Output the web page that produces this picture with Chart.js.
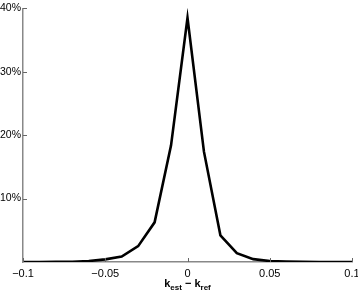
<!DOCTYPE html>
<html>
<head>
<meta charset="utf-8">
<script src="https://cdn.jsdelivr.net/npm/chart.js@4"></script>
<style>
  body { margin: 0; background: #fff; }
  canvas { display: block; }
</style>
</head>
<body>
<canvas id="errChart" width="358" height="293"></canvas>
<script>
// k_est - k_ref histogram (percent of samples)
const diffs = [-0.1, -0.09, -0.08, -0.07, -0.06, -0.05, -0.04, -0.03, -0.02, -0.01, 0,
    0.01, 0.02, 0.03, 0.04, 0.05, 0.06, 0.07, 0.08, 0.09, 0.1];
const percents = [0, 0, 0.02, 0.05, 0.15, 0.42, 0.85, 2.5, 6.25, 18.4, 38.5,
    17.4, 4.2, 1.4, 0.45, 0.15, 0.08, 0.05, 0, 0, 0];
const xTicks = [-0.1, -0.05, 0, 0.05, 0.1];
const xTickLabels = ['\u22120.1', '\u22120.05', '0', '0.05', '0.1'];
const yTicks = [10, 20, 30, 40];

const font = {family: "'Liberation Sans', Arial, sans-serif", size: 11};

// small inward tick marks, like the matlab axes
const innerTicks = {
    id: 'innerTicks',
    afterDraw(chart) {
        const {ctx, chartArea, scales} = chart;
        ctx.save();
        ctx.strokeStyle = '#666';
        ctx.lineWidth = 1;
        ctx.beginPath();
        xTicks.forEach(v => {
            const px = Math.round(scales.x.getPixelForValue(v)) + 0.5;
            ctx.moveTo(px, chartArea.bottom);
            ctx.lineTo(px, chartArea.bottom - 4);
        });
        yTicks.forEach(v => {
            const py = Math.round(scales.y.getPixelForValue(v)) + 0.5;
            ctx.moveTo(chartArea.left, py);
            ctx.lineTo(chartArea.left + 4, py);
        });
        ctx.stroke();
        ctx.restore();
    }
};

// axis title with subscripts: k_est - k_ref
const xTitle = {
    id: 'xTitle',
    afterDraw(chart) {
        const {ctx, scales} = chart;
        const big = "bold 11px 'Liberation Sans', Arial, sans-serif";
        const small = "bold 8px 'Liberation Sans', Arial, sans-serif";
        const parts = [['k', big, 0], ['est', small, 3], [' \u2212 ', big, 0], ['k', big, 0], ['ref', small, 3]];
        ctx.save();
        let total = 0;
        parts.forEach(p => { ctx.font = p[1]; total += ctx.measureText(p[0]).width; });
        let x = scales.x.getPixelForValue(0) - total / 2;
        const y = 287;
        ctx.fillStyle = '#000';
        ctx.textBaseline = 'alphabetic';
        parts.forEach(p => {
            ctx.font = p[1];
            ctx.fillText(p[0], x, y + p[2]);
            x += ctx.measureText(p[0]).width;
        });
        ctx.restore();
    }
};

new Chart(document.querySelector('#errChart'), {
    type: 'line',
    data: {
        datasets: [{
            data: diffs.map((d, i) => ({x: d, y: percents[i]})),
            borderColor: '#000',
            borderWidth: 2.6,
            pointRadius: 0,
            tension: 0,
            fill: false
        }]
    },
    options: {
        responsive: false,
        animation: false,
        devicePixelRatio: 1,
        layout: {padding: {top: 4, right: 6, left: 0, bottom: 0}},
        plugins: {legend: {display: false}, tooltip: {enabled: false}},
        scales: {
            x: {
                type: 'linear',
                min: -0.1,
                max: 0.1,
                afterBuildTicks: s => { s.ticks = xTicks.map(v => ({value: v})); },
                afterFit: s => { s.height = 31; s.paddingLeft = 0; s.paddingRight = 0; },
                grid: {display: false, drawTicks: false},
                border: {display: true, color: '#888', width: 1.5},
                ticks: {
                    font: font,
                    color: '#000',
                    padding: 5,
                    maxRotation: 0,
                    callback: v => xTickLabels[xTicks.indexOf(v)] ?? ''
                }
            },
            y: {
                min: 0,
                max: 40,
                afterBuildTicks: s => { s.ticks = yTicks.map(v => ({value: v})); },
                afterFit: s => { s.width = 23; },
                grid: {display: false, drawTicks: false},
                border: {display: true, color: '#888', width: 1.5},
                ticks: {
                    font: {family: font.family, size: 10.5},
                    color: '#000',
                    padding: 2,
                    callback: v => v + '%'
                }
            }
        }
    },
    plugins: [innerTicks, xTitle]
});
</script>
</body>
</html>
